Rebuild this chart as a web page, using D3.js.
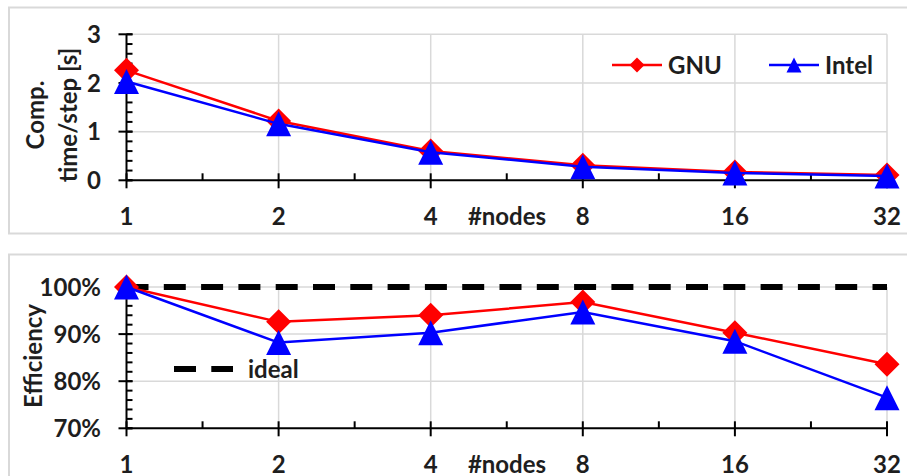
<!DOCTYPE html>
<html>
<head>
<meta charset="utf-8">
<script src="https://cdn.jsdelivr.net/npm/d3@7"></script>
<style>
  html, body { margin: 0; padding: 0; background: #fff; }
  svg { display: block; }
  text { font-family: Lato, "Open Sans", sans-serif; font-weight: bold; fill: #1e1e1e; }
</style>
</head>
<body>
<svg id="chart" width="907" height="476"></svg>
<script>
"use strict";

const nodes = [1, 2, 4, 8, 16, 32]
const gnuTime = [2.26, 1.22, 0.60, 0.31, 0.17, 0.11]
const intelTime = [2.03, 1.16, 0.575, 0.28, 0.15, 0.09]
const gnuEff = [100, 92.6, 94.0, 96.8, 90.3, 83.6]
const intelEff = [100, 88.2, 90.3, 94.7, 88.5, 76.5]
const timeTicks = [0, 1, 2, 3]
const effTicks = [70, 80, 90, 100]
const idealEff = 100

;(function() {
	const svg = d3.select('#chart')
	const red = '#ff0000', blue = '#0000ff', grid = '#d9d9d9'

	const x = d3.scaleLog().base(2).domain([1, 32]).range([126.5, 887])
	const minorX = d3.range(nodes.length - 1).map(i => Math.sqrt(nodes[i] * nodes[i + 1]))

	const diamond = s => `M0,${-s}L${s},0L0,${s}L${-s},0Z`
	const triangle = s => `M0,${-s}L${s},${s}L${-s},${s}Z`

	function panel(cfg) {
		const g = svg.append('g')
		const y = d3.scaleLinear().domain(cfg.domain).range(cfg.range)
		const [y0, y1] = cfg.range

		// frame
		g.append('rect')
			.attr('x', 9).attr('y', cfg.frameTop)
			.attr('width', 910).attr('height', cfg.frameH)
			.attr('fill', 'none').attr('stroke', grid).attr('stroke-width', 2)

		// grid
		g.selectAll('.hg').data(cfg.ticks.slice(1)).enter().append('line')
			.attr('x1', x(1)).attr('x2', x(32))
			.attr('y1', d => y(d)).attr('y2', d => y(d))
			.attr('stroke', grid).attr('stroke-width', 1.5)
		g.selectAll('.vg').data(nodes.slice(1)).enter().append('line')
			.attr('x1', d => x(d)).attr('x2', d => x(d))
			.attr('y1', y1).attr('y2', y0)
			.attr('stroke', grid).attr('stroke-width', 1.5)

		// axes
		const ax = g.append('g').attr('stroke', '#000').attr('stroke-width', 2)
		ax.append('line').attr('x1', x(1)).attr('x2', x(1)).attr('y1', y1).attr('y2', y0)
		ax.append('line').attr('x1', x(1)).attr('x2', x(32)).attr('y1', y0).attr('y2', y0)
		const step = (cfg.ticks[1] - cfg.ticks[0]) / 5
		const minorY = d3.range(cfg.domain[0], cfg.domain[1] + step / 2, step)
		ax.selectAll('.my').data(minorY).enter().append('line')
			.attr('x1', x(1)).attr('x2', x(1) + 6)
			.attr('y1', d => y(d)).attr('y2', d => y(d))
		ax.selectAll('.My').data(cfg.ticks).enter().append('line')
			.attr('x1', x(1) - 8).attr('x2', x(1) + 6)
			.attr('y1', d => y(d)).attr('y2', d => y(d))
		ax.selectAll('.Mx').data(nodes).enter().append('line')
			.attr('x1', d => x(d)).attr('x2', d => x(d))
			.attr('y1', y0 - 7).attr('y2', y0 + 8)
		ax.selectAll('.mx').data(minorX).enter().append('line')
			.attr('x1', d => x(d)).attr('x2', d => x(d))
			.attr('y1', y0 - 7).attr('y2', y0)

		// tick labels
		g.selectAll('.yl').data(cfg.ticks).enter().append('text')
			.attr('x', 101).attr('y', d => y(d)).attr('dy', '0.36em')
			.attr('text-anchor', 'end').attr('font-size', 24)
			.text(cfg.fmt)
		g.selectAll('.xl').data(nodes).enter().append('text')
			.attr('x', d => x(d)).attr('y', y0 + 45)
			.attr('text-anchor', 'middle').attr('font-size', 24)
			.text(d => d)
		g.append('text').attr('x', 507).attr('y', y0 + 45)
			.attr('text-anchor', 'middle').attr('font-size', 24).text('#nodes')

		// axis title
		cfg.title.forEach((t, i) => {
			g.append('text')
				.attr('transform', `translate(${cfg.titleX[i]},${cfg.titleY}) rotate(-90)`)
				.attr('dy', '0.36em').attr('text-anchor', 'middle').attr('font-size', 24)
				.text(t)
		})

		if (cfg.ideal != null) {
			g.append('line')
				.attr('x1', x(1)).attr('x2', x(32))
				.attr('y1', y(cfg.ideal)).attr('y2', y(cfg.ideal))
				.attr('stroke', '#000').attr('stroke-width', 6)
				.attr('stroke-dasharray', '22,15.3')
		}

		// series
		const line = d3.line().x((d, i) => x(nodes[i])).y(d => y(d))
		const series = [
			{ vals: cfg.gnu, color: red, shape: diamond(12.5) },
			{ vals: cfg.intel, color: blue, shape: triangle(12.5) }
		]
		series.forEach(s => {
			g.append('path').attr('d', line(s.vals))
				.attr('fill', 'none').attr('stroke', s.color).attr('stroke-width', 2.5)
			g.selectAll(null).data(s.vals).enter().append('path')
				.attr('transform', (d, i) => `translate(${x(nodes[i])},${y(d)})`)
				.attr('d', s.shape).attr('fill', s.color)
		})
		return g
	}

	const top = panel({
		domain: [0, 3], range: [180.3, 34.3], ticks: timeTicks, fmt: d => d,
		frameTop: 7.5, frameH: 226, gnu: gnuTime, intel: intelTime,
		title: ['Comp.', 'time/step [s]'], titleX: [35, 68], titleY: 115
	})
	const bottom = panel({
		domain: [70, 100], range: [428.3, 287], ticks: effTicks, fmt: d => d + '%',
		frameTop: 254.5, frameH: 260, gnu: gnuEff, intel: intelEff,
		title: ['Efficiency'], titleX: [33], titleY: 356, ideal: idealEff
	})

	// legend, top panel
	const legend = [
		{ name: 'GNU', color: red, shape: diamond(7.5), x0: 612 },
		{ name: 'Intel', color: blue, shape: triangle(7.5), x0: 769 }
	]
	legend.forEach(l => {
		top.append('line').attr('x1', l.x0).attr('x2', l.x0 + 50).attr('y1', 65).attr('y2', 65)
			.attr('stroke', l.color).attr('stroke-width', 2.5)
		top.append('path').attr('transform', `translate(${l.x0 + 25},65)`)
			.attr('d', l.shape).attr('fill', l.color)
		top.append('text').attr('x', l.x0 + 56).attr('y', 74).attr('font-size', 24).text(l.name)
	})

	// ideal legend, bottom panel
	bottom.append('line').attr('x1', 174).attr('x2', 233).attr('y1', 369).attr('y2', 369)
		.attr('stroke', '#000').attr('stroke-width', 6).attr('stroke-dasharray', '22,15.3')
	bottom.append('text').attr('x', 248).attr('y', 378).attr('font-size', 24).text('ideal')
})()
</script>
</body>
</html>
